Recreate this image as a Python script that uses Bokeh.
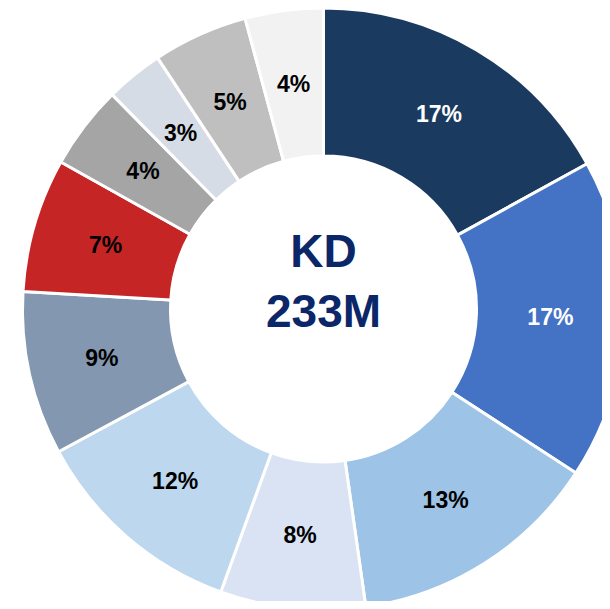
import math
from bokeh.plotting import figure
from bokeh.models import Range1d, ColumnDataSource
from bokeh.core.properties import value
from bokeh.embed import file_html
from bokeh.resources import INLINE

# ---- data (clockwise from 12 o'clock) ----
shares = [17.0, 17.2, 13.6, 7.8, 11.6, 8.8, 7.2, 4.5, 3.1, 5.1, 4.2]
labels = ["17%", "17%", "13%", "8%", "12%", "9%", "7%", "4%", "3%", "5%", "4%"]
colors = ["#1b3a5f", "#4472c4", "#9dc3e6", "#dae3f3", "#bdd7ee", "#8497b0",
          "#c52525", "#a5a5a5", "#d6dce5", "#bfbfbf", "#f2f2f2"]
label_colors = ["white", "white", "black", "black", "black", "black",
                "black", "black", "black", "black", "black"]
center_lines = ["KD", "233M"]

# ---- geometry ----
cx, cy = 323.0, -308.5
r_in, r_out = 153.0, 301.0

total = sum(shares)
starts, ends, lx, ly = [], [], [], []
cum = 0.0
for s in shares:
    a0 = math.pi / 2 - 2 * math.pi * cum / total
    cum += s
    a1 = math.pi / 2 - 2 * math.pi * cum / total
    starts.append(a0)
    ends.append(a1)
    mid = (a0 + a1) / 2
    rm = (r_in + r_out) / 2
    lx.append(cx + rm * math.cos(mid))
    ly.append(cy + rm * math.sin(mid))

src = ColumnDataSource(dict(start=starts, end=ends, color=colors,
                            lx=lx, ly=ly, label=labels, lcolor=label_colors,
                            x=[cx] * len(shares), y=[cy] * len(shares)))

p = figure(width=602, height=601, output_backend="svg", toolbar_location=None,
           x_range=Range1d(0, 602), y_range=Range1d(-601, 0),
           min_border=0, outline_line_color=None, background_fill_color="white",
           border_fill_color="white")
p.axis.visible = False
p.grid.visible = False

p.annular_wedge(x="x", y="y", inner_radius=r_in, outer_radius=r_out,
                start_angle="start", end_angle="end", direction="clock",
                fill_color="color", line_color="white", line_width=3, source=src)

p.text(x="lx", y="ly", text="label", text_color="lcolor",
       text_font=value("Liberation Sans"), text_font_style="bold",
       text_font_size="23px", text_align="center", text_baseline="middle",
       source=src)

p.text(x=[cx, cx], y=[cy + 58, cy - 2], text=center_lines,
       text_color="#0b2769", text_font=value("Liberation Sans"),
       text_font_style="bold", text_font_size="46px",
       text_align="center", text_baseline="middle")

open("out.html", "w").write(file_html(p, INLINE))
